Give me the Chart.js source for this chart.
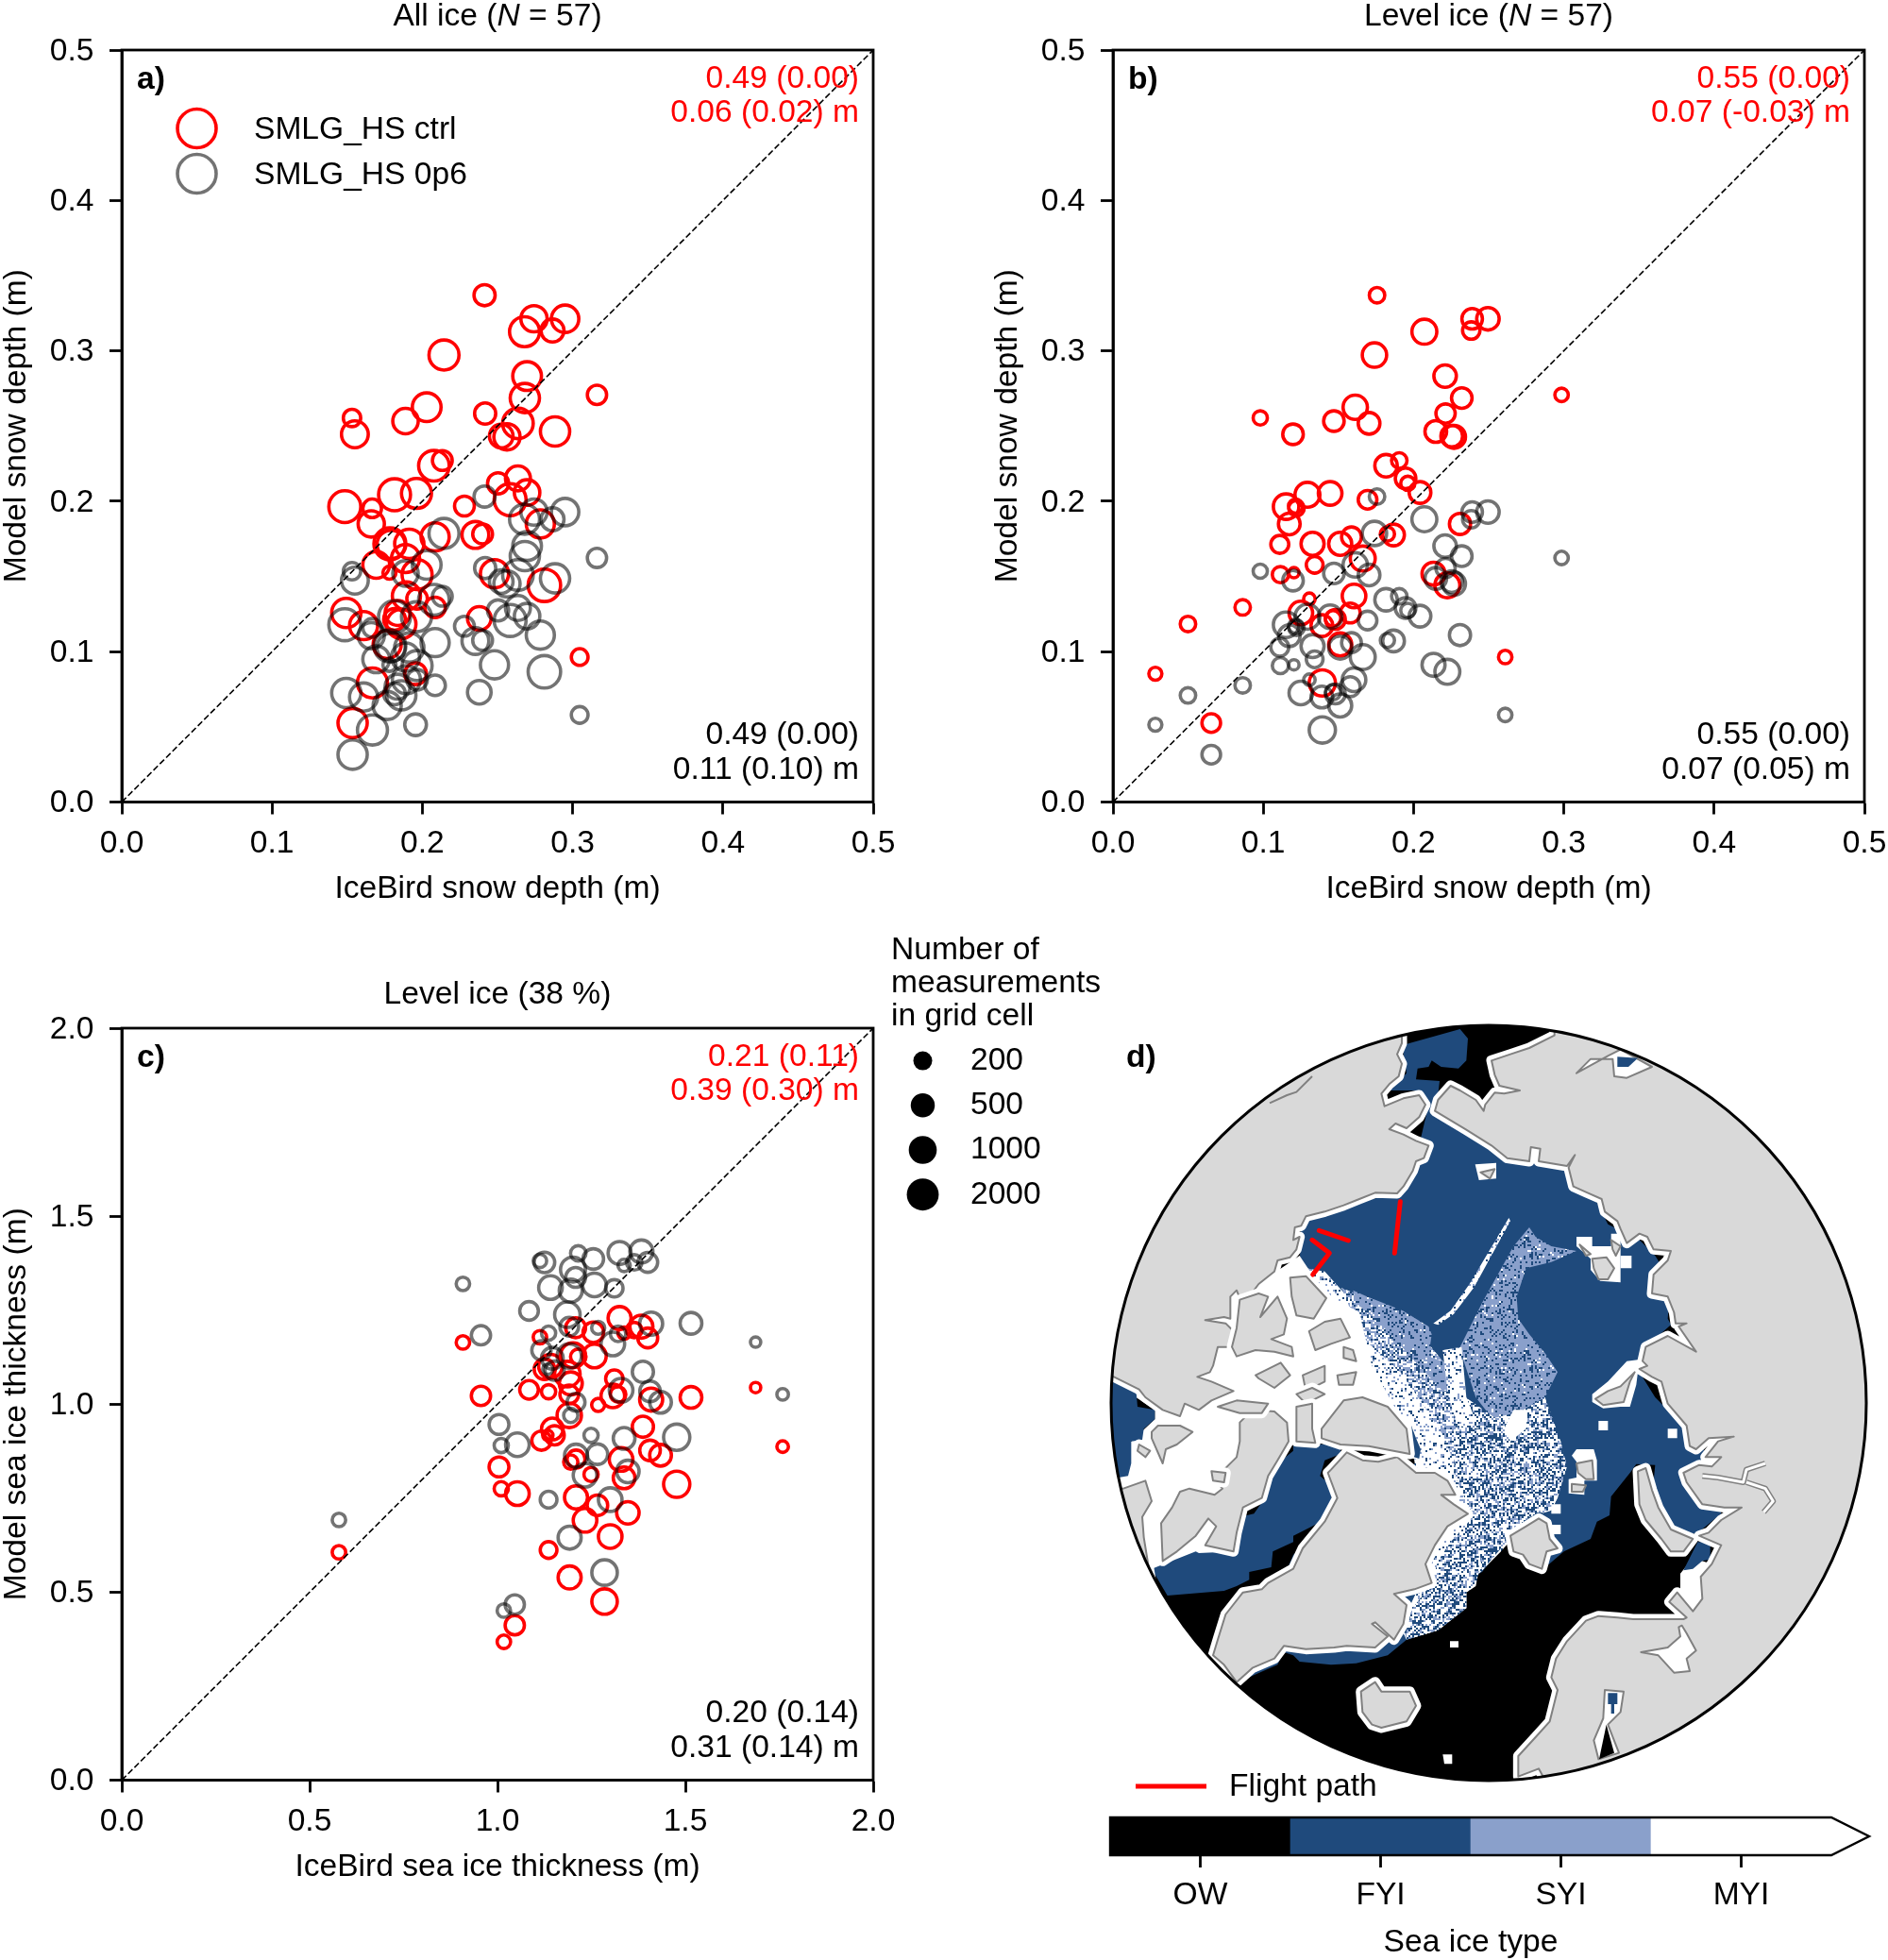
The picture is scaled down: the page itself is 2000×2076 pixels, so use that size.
<!DOCTYPE html>
<html>
<head>
<meta charset="utf-8">
<title>Snow depth and sea ice thickness</title>
<script src="https://cdn.jsdelivr.net/npm/chart.js@4"></script>
<style>
html,body{margin:0;padding:0;background:#fff}
body{position:relative;width:2000px;height:2076px;overflow:hidden}
canvas{position:absolute}
</style>
</head>
<body>
<canvas id="chartA" width="964" height="959" style="left:1px;top:0px"></canvas>
<canvas id="chartB" width="964" height="959" style="left:1051px;top:0px"></canvas>
<canvas id="chartC" width="964" height="959" style="left:1px;top:1036px"></canvas>
<canvas id="chartSizes" width="250" height="349" style="left:940px;top:990px"></canvas>
<canvas id="chartMap" width="820" height="840" style="left:1170px;top:1080px"></canvas>
<canvas id="chartBar" width="845" height="170" style="left:1156px;top:1905px"></canvas>
<script>
// panels a, b: IceBird snow depth (m), one value per grid cell
var xAllIce=[.2414,.2743,.2950,.2680,.2866,.2144,.2697,.3162,.2682,.2029,.1532,.2418,.1888,.2636,.1551,.2883,.2525,.2563,.2077,.2133,.2636,.2504,.1815,.1961,.2697,.2584,.1484,.1666,.2280,.1660,.2785,.2353,.2401,.2085,.1784,.1913,.1792,.1693,.1781,.1965,.1888,.2480,.2812,.1894,.1965,.2085,.1835,.2379,.1494,.1609,.1860,.1815,.1766,.1668,.1955,.3047,.1536]
var xLevelIce=[.1757,.2390,.2495,.2072,.2384,.1740,.2210,.2985,.2321,.1612,.0980,.2213,.1470,.1704,.1198,.2148,.2254,.2269,.1817,.1905,.1947,.1962,.1294,.1445,.2043,.1694,.1152,.1221,.1215,.1173,.2309,.1867,.1826,.1587,.1328,.1512,.1110,.1342,.1204,.1114,.1662,.2133,.2225,.1604,.1307,.0863,.1579,.1464,.1250,.1390,.0499,.1480,.1512,.1393,.0282,.2610,.0654]
// model snow depth (m)
var snowCtrl=[.3370,.3213,.3213,.3127,.3135,.2972,.2832,.2707,.2686,.2625,.2554,.2583,.2533,.2518,.2445,.2464,.2433,.2428,.2236,.2271,.2152,.2119,.2043,.2052,.2058,.2010,.1964,.1953,.1968,.1849,.1849,.1776,.1782,.1763,.1717,.1717,.1713,.1577,.1525,.1512,.1619,.1518,.1441,.1370,.1351,.1294,.1257,.1221,.1257,.1173,.1184,.1215,.1048,.0792,.0853,.0964,.0525]
var snow0p6=[.2031,.1928,.1928,.1880,.1880,.1786,.1702,.1623,.1635,.1577,.1535,.1556,.1520,.1510,.1472,.1487,.1466,.1451,.1345,.1368,.1290,.1274,.1232,.1232,.1236,.1207,.1179,.1158,.1169,.1106,.1110,.1071,.1075,.1060,.1037,.1027,.1029,.0949,.0912,.0907,.0964,.0912,.0866,.0813,.0813,.0776,.0767,.0730,.0725,.0698,.0709,.0719,.0642,.0479,.0514,.0579,.0315]
// number of measurements in each grid cell
var countAll=[545,1340,1640,2610,760,2610,2070,390,2290,2070,280,545,1170,2890,1480,2290,840,1340,2890,430,1060,545,3670,2610,1170,3670,3670,350,430,1340,1870,1480,430,1870,3670,2290,1870,1480,130,2610,1870,1870,4040,1870,490,490,1060,840,2290,1870,2290,600,1870,2610,600,250,2290]
var countLevel=[200,490,690,1060,280,960,690,140,490,960,160,390,490,600,490,600,600,760,690,200,490,160,1060,840,600,350,1170,200,160,600,545,600,160,430,760,760,310,250,80,225,1060,760,1060,840,100,200,430,200,840,600,200,430,760,1340,130,140,350]

// panel c: sea ice thickness (m)
var xThick=[.908,.956,1.084,1.113,1.125,1.136,1.136,1.215,1.201,1.255,1.325,1.383,1.364,1.337,1.400,1.208,1.141,1.195,1.258,1.311,1.186,1.191,1.268,1.409,1.515,1.321,1.307,1.687,1.759,1.387,1.117,1.146,1.152,1.134,1.329,1.406,1.434,1.209,1.195,1.191,1.004,1.249,1.337,1.477,1.010,1.053,1.209,1.266,1.233,1.347,1.300,1.192,1.285,1.046,1.017,.578]
var thickCtrl=[1.164,1.022,1.038,1.178,1.093,1.033,.612,1.126,1.130,1.191,1.229,1.206,1.197,1.189,1.176,1.203,1.101,1.055,1.128,1.068,1.080,1.026,.998,1.012,1.018,1.026,1.022,1.044,.887,.940,.903,.934,.917,.917,.853,.877,.864,.854,.846,.970,.833,.813,.804,.787,.775,.762,.752,.731,.691,.711,.648,.539,.475,.412,.368,.606]
var thick0p6=[1.320,1.183,1.248,1.381,1.377,1.189,.746,1.401,1.358,1.386,1.402,1.406,1.377,1.369,1.377,1.337,1.310,1.302,1.317,1.308,1.238,1.206,1.203,1.214,1.215,1.187,1.160,1.165,1.026,1.086,1.143,1.122,1.089,1.093,1.037,1.034,1.005,1.005,.970,1.128,.946,.917,.909,.912,.890,.892,.863,.867,.811,.821,.746,.645,.552,.467,.451,.692]
var countThick=[140,390,350,140,490,160,250,200,1060,490,760,760,200,115,430,430,840,760,840,280,1170,350,130,760,600,200,840,80,100,545,390,600,390,80,840,490,600,310,160,960,430,160,600,1340,160,840,760,490,840,690,840,760,1170,390,140,140]

var sizeLabels=['200','500','1000','2000']
var sizeCounts=[200,500,1000,2000]
var iceTypes=['OW','FYI','SYI','MYI']
var iceBar=[1,1,1,1]
var iceColors=['#000000','#1f4a7c','#8aa0cb','#ffffff']

var openWater=[-100,-100,2600,-100,2600,2600,-100,2600]
var fyiArctic=[1030,270,1200,390,1270,440,1480,470,1550,550,1600,650,1700,700,1750,750,1800,830,1790,950,1800,970,1720,1040,1700,1120,1750,1200,1900,1350,1960,1570,1880,1635,1810,1620,1770,1550,1745,1470,1750,1415,1690,1412,1670,1440,1610,1515,1605,1575,1565,1595,1545,1650,1460,1690,1390,1750,1290,1640,1200,1755,1190,1760,1150,1820,1150,1870,1060,1940,960,1970,900,2020,800,2045,720,2050,620,2040,600,2020,570,2010,550,2050,470,2085,430,2105,600,1700,1000,1400,900,1100,620,780,625,650,760,590,930,552,1000,400]
var fyiBering=[950,80,1130,30,1155,60,1150,130,1125,155,1070,150,1040,130,1030,150,995,155,990,190,1065,195,1060,240,1050,290,1020,290,1000,225,900,225,960,170,950,110]
var fyiOkhotsk=[1630,118,1695,122,1665,150,1630,150]
var whiteArchipelago=[430,880,620,750,700,870,810,930,850,1100,960,1300,1010,1400,750,1350,600,1340,550,1400,430,1590,420,1680,150,1750,60,1500,0,1460,50,1400,85,1340,160,1270,160,1240,100,1200,30,1135,300,1100]
var fyiBaffin=[600,1340,750,1355,750,1380,700,1400,685,1450,715,1475,725,1540,680,1600,600,1640,600,1660,535,1690,530,1740,460,1755,460,1780,420,1800,380,1815,200,1830,150,1745,290,1690,300,1695,415,1690,420,1630,430,1580,475,1570,510,1520,520,1480,550,1410,600,1370]
var fyiHudson=[0,1130,100,1170,105,1230,160,1240,160,1270,125,1300,120,1335,85,1340,85,1410,75,1450,45,1455,0,1460]
var fyiNares=[975,1290,990,1330,1005,1365,1000,1395,970,1385]
var fyiPechora=[1860,1710,1885,1660,1925,1660,1925,1715,1900,1720,1870,1745,1840,1750]
var whitePechora=[1830,1760,1870,1710,1930,1730,1895,1770,1900,1840,1870,1880,1800,1860,1790,1840,1830,1815]

// sea ice type mixtures
var speckWhite=[640,790,700,800,790,900,880,1000,1000,1140,1090,1240,1190,1330,1300,1500,1320,1620,1260,1690,1190,1760,1150,1820,1150,1870,1060,1940,960,1970,940,1930,1000,1800,1000,1600,1000,1500,980,1370,900,1250,800,1060,720,930,680,850]
var speckBandW=[753,852,948,931,1078,1088,1192,1323,1241,1598,1176,1579,1078,1323,948,1127,818,1009]
var syiWest=[790,860,834,880,948,925,1030,975,1040,1000,1030,1070,1085,1090,1105,1180,1075,1180,1000,1100,900,990,800,900]
var syiEast=[1130,1040,1200,900,1300,720,1350,660,1370,690,1420,720,1500,735,1420,770,1340,790,1310,880,1315,950,1350,1000,1400,1060,1440,1120,1400,1200,1370,1260,1250,1290,1180,1200,1140,1080]
var mixEast=[1322,1245,1400,1200,1450,1340,1470,1420,1440,1520,1420,1560,1350,1580,1300,1630,1260,1680,1200,1750,1180,1600,1110,1441,1127,1186,1241,1265]
var mixFram=[1190,1750,1180,1800,1150,1820,1150,1870,1060,1940,960,1970,950,1930,980,1870,1040,1790,1060,1720,1100,1660,1190,1560]
var streakThin=[1045,965,1100,925,1160,840,1285,630,1290,640,1175,850,1110,935,1060,970]
var streakWhite=[1075,1050,1135,1040,1150,1200,1190,1300,1120,1290,1090,1180]
var patchWhite=[1300,1240,1345,1240,1340,1300,1290,1340,1270,1300]

// land
var landCanada=[945,-100,945,75,930,110,945,140,935,180,905,205,880,235,890,275,950,250,1000,240,1020,270,1000,310,960,345,925,330,905,348,950,365,990,385,1030,400,1015,440,990,450,980,480,950,530,930,552,860,550,810,570,760,590,700,610,640,625,625,655,605,660,600,700,620,690,610,730,590,755,550,765,540,800,490,840,460,880,430,885,420,860,400,880,400,950,380,945,320,955,385,965,410,990,400,1040,360,1040,345,1100,335,1120,295,1135,340,1150,410,1180,340,1210,300,1240,255,1220,240,1260,185,1240,130,1200,110,1175,30,1135,-100,1135,-100,-100]
var landEurasia=[1430,-100,1430,50,1350,90,1290,110,1230,130,1240,175,1255,210,1320,225,1270,235,1240,232,1210,270,1205,290,1180,255,1130,225,1100,210,1060,255,1050,290,1100,320,1150,350,1230,400,1280,440,1350,450,1355,405,1385,410,1380,450,1470,465,1495,430,1475,470,1490,530,1530,548,1580,570,1590,610,1630,640,1640,665,1660,710,1700,680,1725,690,1745,730,1800,735,1790,765,1745,810,1740,870,1790,880,1810,930,1815,965,1850,965,1825,975,1880,1055,1790,1005,1720,1040,1710,1085,1725,1100,1700,1110,1740,1135,1770,1150,1790,1220,1850,1290,1860,1355,1880,1365,1920,1330,2000,1325,1950,1340,1910,1390,1960,1390,1930,1420,1890,1415,1840,1440,1850,1470,1900,1540,1970,1550,2025,1550,1960,1590,1920,1630,1890,1640,1960,1670,1930,1730,1895,1770,1900,1840,1870,1880,1820,1820,1795,1850,1850,1900,1840,1905,1680,1905,1630,1900,1570,1895,1530,1910,1470,1975,1435,2030,1420,2090,1440,2130,1415,2230,1370,2280,1315,2340,1315,2405,1380,2380,1500,2600,2600,2600,2600,-100]
var landGreenland=[720,1430,770,1375,820,1400,870,1405,930,1390,990,1440,1050,1440,1090,1465,1115,1510,1070,1510,1110,1540,1155,1570,1090,1610,1050,1670,1020,1730,1040,1790,985,1810,920,1825,960,1860,950,1920,920,1970,860,1915,850,1920,900,1960,860,1995,770,1990,730,1995,640,2000,570,1990,540,2030,470,2060,420,2105,380,2050,345,2020,360,1970,385,1890,440,1820,500,1810,520,1790,600,1745,630,1680,700,1595,740,1520,710,1440]
var landBaffin=[430,1280,470,1240,540,1245,580,1280,585,1340,550,1400,520,1450,500,1520,440,1550,420,1630,410,1690,320,1670,355,1610,330,1585,290,1640,230,1690,185,1720,180,1600,215,1550,240,1500,270,1490,350,1510,375,1490,340,1450,380,1430,420,1390,430,1340]
var landQuebec=[20,1490,60,1490,130,1465,150,1530,120,1580,125,1645,150,1800,0,1700]
var landSouthampton=[150,1310,170,1290,240,1290,280,1310,230,1350,195,1365,185,1410,150,1330]
var landVictoria=[590,820,640,815,705,885,665,950,610,940,595,880]
var landBanks=[430,890,490,870,520,880,495,945,550,880,580,950,570,1000,530,1015,595,1040,600,1070,540,1055,480,1050,420,1070,405,1040,420,980]
var landMelville=[650,990,700,960,750,950,780,1010,720,1030,670,1050]
var landBathurst=[760,1040,790,1050,800,1085,760,1075]
var landPrince=[480,1130,560,1090,590,1130,540,1170,490,1140]
var landSomerset=[630,1130,700,1100,700,1150,640,1180]
var landCornwallis=[740,1130,800,1120,790,1160,745,1160]
var landKing=[610,1190,660,1170,700,1190,640,1220]
var landAxel=[610,1230,660,1220,660,1300,670,1345,610,1340]
var landEllesmere=[690,1300,760,1210,820,1200,900,1230,960,1300,970,1380,840,1355,750,1350,690,1330]
var landDevon=[360,1230,420,1210,520,1220,500,1250,430,1250]
var landCoats=[340,1435,385,1440,380,1470,345,1465]
var landMansel=[110,1350,145,1370,130,1390,105,1370]
var landIceland=[815,2135,860,2105,880,2135,970,2135,990,2180,960,2230,880,2250,850,2240,820,2200]
var landSvalbard=[1290,1640,1340,1610,1380,1585,1405,1600,1415,1650,1440,1680,1405,1690,1390,1745,1350,1730,1330,1700,1300,1690]
var landNovaya=[1695,1435,1720,1425,1740,1495,1760,1550,1800,1620,1870,1650,1840,1690,1800,1690,1770,1650,1720,1590,1700,1540]
var landWrangel=[1195,485,1240,475,1225,505]
var whiteWrangel=[1178,460,1245,455,1245,505,1190,510]
var whiteSevernaya=[1500,690,1550,690,1550,720,1610,720,1610,680,1640,680,1640,835,1575,830,1545,795,1545,760,1500,720]
var landSevernayaA=[1510,715,1545,745,1530,750]
var landSevernayaB=[1550,760,1595,755,1620,790,1600,825,1570,825,1555,790]
var landSevernayaC=[1610,700,1640,720,1625,750,1615,730]
var whiteNovosib=[1550,1190,1600,1150,1660,1085,1700,1080,1690,1160,1670,1230,1640,1230,1585,1235,1550,1215]
var landNovosib=[1560,1205,1600,1180,1640,1165,1685,1120,1670,1150,1650,1215,1585,1225]
var whiteFranz=[1485,1385,1500,1365,1555,1365,1565,1400,1565,1465,1525,1465,1525,1510,1475,1505,1475,1460,1500,1455,1500,1405]
var landFranzA=[1500,1410,1550,1400,1555,1460,1530,1460,1505,1440]
var landFranzB=[1485,1475,1530,1480,1520,1500,1485,1500]
var whiteSquareA=[1570,1275,1600,1275,1600,1305,1570,1305]
var whiteSquareB=[1790,1300,1820,1300,1820,1330,1790,1330]
var whiteSquareC=[1420,1540,1450,1540,1450,1570,1420,1570]
var whiteSquareD=[1420,1605,1450,1605,1450,1635,1420,1635]
var whiteSquareE=[1640,750,1675,750,1675,790,1640,790]
var whiteJanMayen=[1098,1975,1125,1975,1125,1995,1098,1995]
var whiteFaroe=[1075,2335,1105,2335,1105,2365,1080,2365]
var whiteSeaWhite=[1705,2010,1790,1995,1830,1960,1825,1930,1835,1925,1850,1950,1880,2005,1850,2030,1860,2070,1810,2075,1760,2020]
var whiteBaltic=[1590,2130,1650,2135,1640,2200,1600,2240,1635,2330,1570,2350,1555,2290,1585,2220]
var fyiBaltic=[1600,2140,1630,2140,1630,2175,1620,2175,1620,2205,1610,2205,1610,2175,1600,2175]
var owBaltic=[1595,2240,1620,2330,1572,2350]
var whiteOkhotsk=[1500,170,1545,125,1615,125,1620,180,1660,185,1740,150,1640,95,1600,115]
// fjords and gulfs drawn as narrow channels
var ob1=[1900,1450,1950,1455,2030,1470,2040,1430,2100,1410]
var ob2=[2040,1470,2100,1490,2125,1530,2095,1565]
var alaskaGulf=[525,265,580,240,610,230,660,180]
// flight tracks
var flightA=[940,578,922,742]
var flightB=[682,670,775,702]
var flightC=[660,700,715,742,662,810]

// map circle centre and radius, in the same units
var mapCircle=[1221,1218,1200]

var FONT_SIZE=33.6
Chart.defaults.font.family="'Liberation Sans',Arial,sans-serif"
Chart.defaults.font.size=FONT_SIZE
Chart.defaults.color='#000'
Chart.defaults.animation=false
Chart.defaults.devicePixelRatio=1

var RED='#ff0000'
var GREY='rgba(0,0,0,0.55)'
var LAND='#d9d9d9'
var COAST='#808080'
var FYI=iceColors[1]
var SYI=iceColors[2]

function dotRadius(n){
    return 10+6.9*Math.log10(n/200)
}
function ringRadius(n){
    return dotRadius(n)-1.8
}
function zip(xs,ys){
    var out=[]
    for(var i=0;i<xs.length;i++){
        out.push({x:xs[i],y:ys[i]})
    }
    return out
}
function pairs(flat){
    var out=[]
    for(var i=0;i<flat.length;i+=2){
        out.push({x:flat[i],y:flat[i+1]})
    }
    return out
}

// writes a list of texts on the canvas; runs are used for the italic N
function textPlugin(items){
    return {
        id:'texts',
        afterDraw:function(chart){
            var ctx=chart.ctx,a=chart.chartArea
            ctx.save()
            ctx.textBaseline='middle'
            items.forEach(function(t){
                var x=t.right!==undefined?a.right-t.right:(t.center?(a.left+a.right)/2:a.left+t.left)
                var y=(t.top!==undefined?a.top+t.top:a.bottom-t.bottom)+1.5
                var runs=t.runs||[{s:t.text}]
                var w=0
                var base=(t.bold?'bold ':'')+FONT_SIZE+"px 'Liberation Sans',Arial,sans-serif"
                runs.forEach(function(r){
                    ctx.font=(r.italic?'italic ':'')+base
                    w+=ctx.measureText(r.s).width
                })
                var cx=t.right!==undefined?x-w:(t.center?x-w/2:x)
                ctx.textAlign='left'
                ctx.fillStyle=t.color||'#000'
                runs.forEach(function(r){
                    ctx.font=(r.italic?'italic ':'')+base
                    ctx.fillText(r.s,cx,y)
                    cx+=ctx.measureText(r.s).width
                })
            })
            ctx.restore()
        }
    }
}

var framePlugin={
    id:'frame',
    afterDatasetsDraw:function(chart){
        var a=chart.chartArea,ctx=chart.ctx
        ctx.save()
        ctx.strokeStyle='#000'
        ctx.lineWidth=2.8
        ctx.strokeRect(a.left,a.top,a.right-a.left,a.bottom-a.top)
        ctx.restore()
    }
}

var ringKeyPlugin={
    id:'ringKey',
    afterDraw:function(chart){
        var a=chart.chartArea,ctx=chart.ctx
        ctx.save()
        ctx.lineWidth=3.6
        ctx.strokeStyle=RED
        ctx.beginPath()
        ctx.arc(a.left+79.5,a.top+83,20.5,0,Math.PI*2)
        ctx.stroke()
        ctx.strokeStyle=GREY
        ctx.beginPath()
        ctx.arc(a.left+79.5,a.top+131,20.5,0,Math.PI*2)
        ctx.stroke()
        ctx.restore()
    }
}

function scatterPanel(id,opt){
    var plugins=[framePlugin,textPlugin(opt.texts)]
    if(opt.key){plugins.push(ringKeyPlugin)}
    var ticks={
        autoSkip:false,
        maxRotation:0,
        stepSize:opt.step,
        callback:function(v){return Number(v).toFixed(1)}
    }
    var grid={drawOnChartArea:false,tickLength:13,tickWidth:2.8,tickColor:'#000'}
    var border={color:'#000',width:2.8}
    new Chart(document.getElementById(id),{
        type:'scatter',
        data:{datasets:[
            {
                data:[{x:0,y:0},{x:opt.max,y:opt.max}],
                showLine:true,
                borderColor:'#000',
                borderWidth:1.6,
                borderDash:[6.5,3],
                pointRadius:0,
                order:0
            },
            {
                data:zip(opt.x,opt.grey),
                pointRadius:opt.counts.map(ringRadius),
                pointBackgroundColor:'rgba(0,0,0,0)',
                pointBorderColor:GREY,
                pointBorderWidth:3.6,
                order:1
            },
            {
                data:zip(opt.x,opt.red),
                pointRadius:opt.counts.map(ringRadius),
                pointBackgroundColor:'rgba(0,0,0,0)',
                pointBorderColor:RED,
                pointBorderWidth:3.6,
                order:2
            }
        ]},
        options:{
            responsive:false,
            events:[],
            layout:{padding:{top:53,right:40,left:0,bottom:0}},
            plugins:{legend:{display:false},tooltip:{enabled:false}},
            scales:{
                x:{
                    type:'linear',min:0,max:opt.max,
                    ticks:Object.assign({padding:11},ticks),
                    grid:grid,border:border,
                    title:{display:true,text:opt.xTitle,padding:0,font:{size:FONT_SIZE,lineHeight:1}},
                    afterFit:function(s){s.height=109.5}
                },
                y:{
                    type:'linear',min:0,max:opt.max,
                    ticks:Object.assign({padding:16.5,labelOffset:1.5},ticks),
                    grid:grid,border:border,
                    title:{display:true,text:opt.yTitle,padding:0,font:{size:FONT_SIZE,lineHeight:1}},
                    afterFit:function(s){s.width=128}
                }
            }
        },
        plugins:plugins
    })
}

function panelTexts(letter,title,r1,r2,k1,k2){
    return [
        {runs:title,center:true,top:-36.5},
        {text:letter,left:16,top:30,bold:true},
        {text:r1,right:15,top:29,color:RED},
        {text:r2,right:15,top:65,color:RED},
        {text:k1,right:15,bottom:72},
        {text:k2,right:15,bottom:35}
    ]
}

scatterPanel('chartA',{
    x:xAllIce,red:snowCtrl,grey:snow0p6,counts:countAll,max:.5,step:.1,key:true,
    xTitle:'IceBird snow depth (m)',yTitle:'Model snow depth (m)',
    texts:panelTexts('a)',[{s:'All ice ('},{s:'N',italic:true},{s:' = 57)'}],'0.49 (0.00)','0.06 (0.02) m','0.49 (0.00)','0.11 (0.10) m').concat([
        {text:'SMLG_HS ctrl',left:140,top:83},
        {text:'SMLG_HS 0p6',left:140,top:131}
    ])
})
scatterPanel('chartB',{
    x:xLevelIce,red:snowCtrl,grey:snow0p6,counts:countLevel,max:.5,step:.1,
    xTitle:'IceBird snow depth (m)',yTitle:'Model snow depth (m)',
    texts:panelTexts('b)',[{s:'Level ice ('},{s:'N',italic:true},{s:' = 57)'}],'0.55 (0.00)','0.07 (-0.03) m','0.55 (0.00)','0.07 (0.05) m')
})
scatterPanel('chartC',{
    x:xThick,red:thickCtrl,grey:thick0p6,counts:countThick,max:2,step:.5,
    xTitle:'IceBird sea ice thickness (m)',yTitle:'Model sea ice thickness (m)',
    texts:panelTexts('c)',[{s:'Level ice (38 %)'}],'0.21 (0.11)','0.39 (0.30) m','0.20 (0.14)','0.31 (0.14) m')
})

// marker size key next to panel c
new Chart(document.getElementById('chartSizes'),{
    type:'scatter',
    data:{datasets:[{
        data:sizeLabels.map(function(l){return {x:0,y:l}}),
        pointRadius:sizeCounts.map(dotRadius),
        pointBackgroundColor:'#000',
        pointBorderWidth:0,
        clip:false
    }]},
    options:{
        responsive:false,
        events:[],
        layout:{padding:{top:110,left:17,right:0,bottom:0}},
        plugins:{legend:{display:false},tooltip:{enabled:false}},
        scales:{
            x:{type:'linear',min:-1,max:1,display:false},
            y:{
                type:'category',labels:sizeLabels,offset:true,position:'right',
                grid:{display:false,drawTicks:false},border:{display:false},
                ticks:{padding:30,autoSkip:false},
                afterFit:function(s){s.width=192}
            }
        }
    },
    plugins:[textPlugin([
        {text:'Number of',left:-13,top:-95},
        {text:'measurements',left:-13,top:-60},
        {text:'in grid cell',left:-13,top:-25}
    ])]
})

// dither tiles for the mixed ice classes, filled from a fixed pixel rule
function tile(colors,weights){
    var c=document.createElement('canvas')
    var cell=2,n=60
    c.width=c.height=cell*n
    var g=c.getContext('2d')
    for(var i=0;i<n;i++){
        for(var j=0;j<n;j++){
            var h=((i*7919+j*104729+(i*j*i)%97*131)^(j*j*31+i*17))%100
            if(h<0){h=-h}
            var k=0,sum=weights[0]
            while(h>=sum&&k<colors.length-1){
                k++
                sum+=weights[k]
            }
            g.fillStyle=colors[k]
            g.fillRect(i*cell,j*cell,cell,cell)
        }
    }
    return g.createPattern(c,'repeat')
}
var texWhite=tile(['#ffffff',SYI,FYI],[80,10,10])
var texMix=tile(['#ffffff',FYI,SYI],[46,32,22])
var texSyi=tile([SYI,FYI,'#ffffff'],[78,18,4])
var texBand=tile(['#ffffff',SYI,FYI],[40,38,22])

function layer(points,fill,stroke,halo){
    return {
        data:pairs(points),
        pointRadius:0,
        showLine:false,
        polyFill:fill,
        polyStroke:stroke,
        polyHalo:halo
    }
}
function land(points){
    return layer(points,LAND,COAST,11)
}
function islet(points){
    return layer(points,LAND,COAST)
}
function white(points){
    return layer(points,'#ffffff')
}
function track(points){
    return {
        data:pairs(points),
        showLine:true,
        pointRadius:0,
        borderColor:RED,
        borderWidth:5,
        borderCapStyle:'round',
        borderJoinStyle:'round'
    }
}

var mapLayers=[
    layer(openWater,'#000000'),
    layer(fyiArctic,FYI),
    layer(fyiBering,FYI),
    layer(speckWhite,texWhite),
    layer(speckBandW,texBand),
    layer(syiWest,texSyi),
    layer(syiEast,texSyi),
    layer(mixEast,texMix),
    layer(mixFram,texMix),
    layer(streakThin,texWhite),
    layer(streakWhite,texWhite),
    white(patchWhite),
    white(whiteArchipelago),
    layer(fyiBaffin,FYI),
    layer(fyiHudson,FYI),
    layer(fyiNares,FYI),
    white(whitePechora),
    layer(fyiPechora,FYI),
    white(whiteWrangel),
    white(whiteSevernaya),
    white(whiteNovosib),
    white(whiteFranz),
    white(whiteSquareA),
    white(whiteSquareB),
    white(whiteSquareC),
    white(whiteSquareD),
    white(whiteSquareE),
    white(whiteJanMayen),
    white(whiteFaroe),
    land(landCanada),
    land(landEurasia),
    land(landGreenland),
    land(landBaffin),
    land(landQuebec),
    land(landSouthampton),
    land(landVictoria),
    land(landBanks),
    land(landMelville),
    land(landBathurst),
    land(landPrince),
    land(landSomerset),
    land(landCornwallis),
    land(landKing),
    land(landAxel),
    land(landEllesmere),
    land(landDevon),
    land(landCoats),
    land(landMansel),
    land(landIceland),
    land(landSvalbard),
    land(landNovaya),
    islet(landWrangel),
    islet(landSevernayaA),
    islet(landSevernayaB),
    islet(landSevernayaC),
    islet(landNovosib),
    islet(landFranzA),
    islet(landFranzB),
    layer(whiteSeaWhite,'#ffffff',COAST),
    layer(whiteOkhotsk,'#ffffff',COAST),
    layer(whiteBaltic,'#ffffff',COAST),
    layer(fyiOkhotsk,FYI),
    layer(fyiBaltic,FYI),
    layer(owBaltic,'#000000')
]

var mapPlugin={
    id:'mapPaint',
    beforeDatasetsDraw:function(chart){
        var ctx=chart.ctx
        var sx=chart.scales.x,sy=chart.scales.y
        ctx.save()
        ctx.beginPath()
        ctx.arc(sx.getPixelForValue(mapCircle[0]),sy.getPixelForValue(mapCircle[1]),sx.getPixelForValue(mapCircle[2])-sx.getPixelForValue(0),0,Math.PI*2)
        ctx.clip()
        ctx.lineJoin='round'
        chart.data.datasets.forEach(function(ds,i){
            if(!ds.polyFill){return}
            var pts=chart.getDatasetMeta(i).data
            ctx.beginPath()
            pts.forEach(function(p,k){
                if(k===0){ctx.moveTo(p.x,p.y)}else{ctx.lineTo(p.x,p.y)}
            })
            ctx.closePath()
            if(ds.polyHalo){
                ctx.strokeStyle='#ffffff'
                ctx.lineWidth=ds.polyHalo
                ctx.stroke()
            }
            ctx.fillStyle=ds.polyFill
            ctx.fill()
            if(ds.polyStroke){
                ctx.strokeStyle=ds.polyStroke
                ctx.lineWidth=2
                ctx.stroke()
            }
        })
        // narrow gulfs
        ;[ob1,ob2,alaskaGulf].forEach(function(line,n){
            var q=pairs(line)
            ;[[n==2?2:6,COAST],[n==2?0:3,'#ffffff']].forEach(function(st){
                if(!st[0]){return}
                ctx.beginPath()
                q.forEach(function(p,k){
                    var x=sx.getPixelForValue(p.x),y=sy.getPixelForValue(p.y)
                    if(k===0){ctx.moveTo(x,y)}else{ctx.lineTo(x,y)}
                })
                ctx.lineWidth=st[0]
                ctx.strokeStyle=st[1]
                ctx.stroke()
            })
        })
        ctx.restore()
    },
    afterDatasetsDraw:function(chart){
        var ctx=chart.ctx
        var sx=chart.scales.x,sy=chart.scales.y
        ctx.save()
        ctx.beginPath()
        ctx.arc(sx.getPixelForValue(mapCircle[0]),sy.getPixelForValue(mapCircle[1]),sx.getPixelForValue(mapCircle[2])-sx.getPixelForValue(0),0,Math.PI*2)
        ctx.strokeStyle='#000'
        ctx.lineWidth=3
        ctx.stroke()
        // flight path key
        ctx.beginPath()
        ctx.moveTo(33,812)
        ctx.lineTo(108,812)
        ctx.strokeStyle=RED
        ctx.lineWidth=5
        ctx.stroke()
        ctx.restore()
    }
}

new Chart(document.getElementById('chartMap'),{
    type:'scatter',
    data:{datasets:[track(flightA),track(flightB),track(flightC)].concat(mapLayers)},
    options:{
        responsive:false,
        events:[],
        layout:{padding:0},
        plugins:{legend:{display:false},tooltip:{enabled:false}},
        scales:{
            x:{type:'linear',min:0,max:2460,display:false},
            y:{type:'linear',min:0,max:2520,reverse:true,display:false}
        }
    },
    plugins:[mapPlugin,textPlugin([
        {text:'d)',left:23,top:39,bold:true},
        {text:'Flight path',left:132,top:811}
    ])]
})

// colour bar with its arrow end
var arrowPlugin={
    id:'arrow',
    afterDatasetsDraw:function(chart){
        var a=chart.chartArea,ctx=chart.ctx
        ctx.save()
        ctx.beginPath()
        ctx.moveTo(a.left,a.top)
        ctx.lineTo(a.right,a.top)
        ctx.lineTo(a.right+40,(a.top+a.bottom)/2)
        ctx.lineTo(a.right,a.bottom)
        ctx.lineTo(a.left,a.bottom)
        ctx.closePath()
        ctx.strokeStyle='#000'
        ctx.lineWidth=2.4
        ctx.stroke()
        ctx.restore()
    }
}
new Chart(document.getElementById('chartBar'),{
    type:'bar',
    data:{labels:iceTypes,datasets:[{
        data:iceBar,
        backgroundColor:iceColors,
        barPercentage:1,
        categoryPercentage:1,
        borderWidth:0
    }]},
    options:{
        responsive:false,
        events:[],
        layout:{padding:{top:20,left:20,right:61,bottom:0}},
        plugins:{legend:{display:false},tooltip:{enabled:false}},
        scales:{
            x:{
                offset:true,
                grid:{offset:false,drawOnChartArea:false,tickLength:13,tickWidth:2.8,tickColor:'#000'},
                border:{display:false},
                ticks:{padding:10},
                title:{display:true,text:'Sea ice type',padding:0,font:{size:FONT_SIZE,lineHeight:1}},
                afterFit:function(s){s.height=110}
            },
            y:{min:0,max:1,display:false}
        }
    },
    plugins:[arrowPlugin]
})
</script>
</body>
</html>
